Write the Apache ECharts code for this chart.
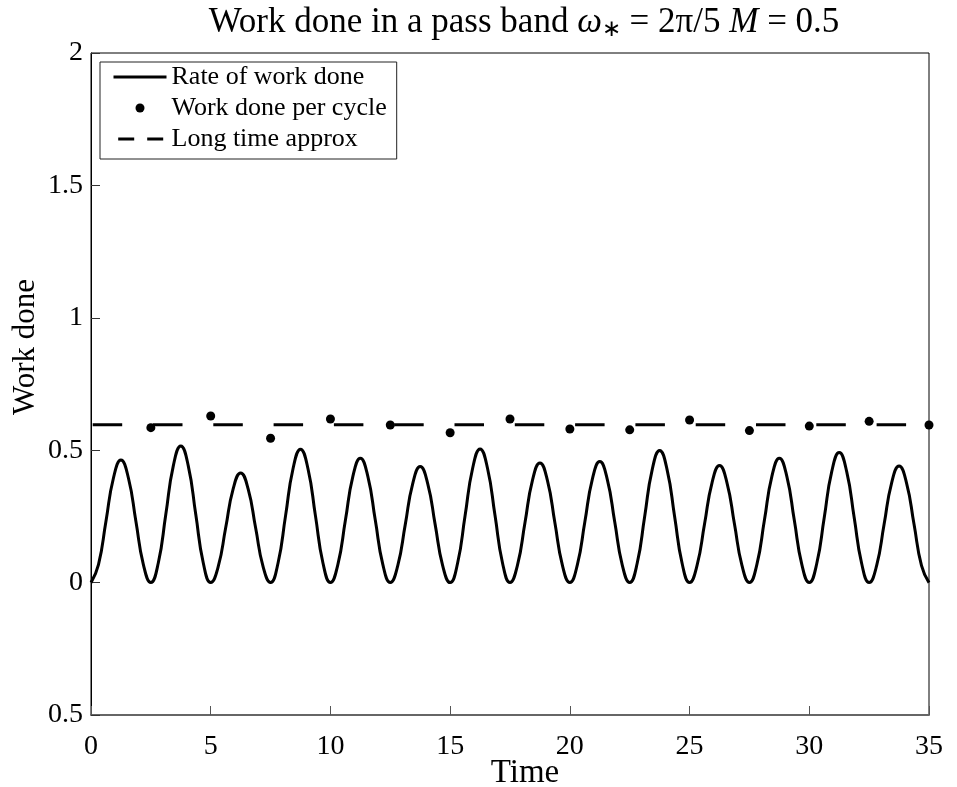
<!DOCTYPE html>
<html><head><meta charset="utf-8">
<script src="https://cdn.jsdelivr.net/npm/echarts@6/dist/echarts.min.js"></script>
<style>html,body{margin:0;padding:0;background:#fff}#c{width:957px;height:787px}</style>
</head><body><div id="c"></div>
<script>
// Rate of work done (time, value)
const rateTime = [
  0, 0.3125, 0.625, 0.9375, 1.25, 1.5625, 1.875, 2.1875,
  2.5, 2.8125, 3.125, 3.4375, 3.75, 4.0625, 4.375, 4.6875,
  5, 5.3125, 5.625, 5.9375, 6.25, 6.5625, 6.875, 7.1875,
  7.5, 7.8125, 8.125, 8.4375, 8.75, 9.0625, 9.375, 9.6875,
  10, 10.3125, 10.625, 10.9375, 11.25, 11.5625, 11.875, 12.1875,
  12.5, 12.8125, 13.125, 13.4375, 13.75, 14.0625, 14.375, 14.6875,
  15, 15.3125, 15.625, 15.9375, 16.25, 16.5625, 16.875, 17.1875,
  17.5, 17.8125, 18.125, 18.4375, 18.75, 19.0625, 19.375, 19.6875,
  20, 20.3125, 20.625, 20.9375, 21.25, 21.5625, 21.875, 22.1875,
  22.5, 22.8125, 23.125, 23.4375, 23.75, 24.0625, 24.375, 24.6875,
  25, 25.3125, 25.625, 25.9375, 26.25, 26.5625, 26.875, 27.1875,
  27.5, 27.8125, 28.125, 28.4375, 28.75, 29.0625, 29.375, 29.6875,
  30, 30.3125, 30.625, 30.9375, 31.25, 31.5625, 31.875, 32.1875,
  32.5, 32.8125, 33.125, 33.4375, 33.75, 34.0625, 34.375, 34.6875,
  35
];
const rateValue = [
  0, 0.068, 0.232, 0.395, 0.463, 0.395, 0.232, 0.068,
  0, 0.075, 0.258, 0.441, 0.516, 0.441, 0.258, 0.075,
  0, 0.060, 0.207, 0.354, 0.414, 0.354, 0.207, 0.060,
  0, 0.074, 0.252, 0.430, 0.504, 0.430, 0.252, 0.074,
  0, 0.069, 0.235, 0.401, 0.470, 0.401, 0.235, 0.069,
  0, 0.064, 0.219, 0.374, 0.438, 0.374, 0.219, 0.064,
  0, 0.074, 0.253, 0.431, 0.505, 0.431, 0.253, 0.074,
  0, 0.066, 0.226, 0.386, 0.452, 0.386, 0.226, 0.066,
  0, 0.067, 0.229, 0.390, 0.457, 0.390, 0.229, 0.067,
  0, 0.073, 0.250, 0.426, 0.499, 0.426, 0.250, 0.073,
  0, 0.065, 0.221, 0.377, 0.442, 0.377, 0.221, 0.065,
  0, 0.069, 0.235, 0.401, 0.470, 0.401, 0.235, 0.069,
  0, 0.072, 0.246, 0.419, 0.491, 0.419, 0.246, 0.072,
  0, 0.064, 0.220, 0.376, 0.440, 0.376, 0.220, 0.064,
  0
];
// Work done per cycle
const cycleTime = [2.5, 5, 7.5, 10, 12.5, 15, 17.5, 20, 22.5, 25, 27.5, 30, 32.5, 35];
const cycleWork = [0.585, 0.629, 0.545, 0.618, 0.595, 0.566, 0.618, 0.580, 0.577, 0.614, 0.574, 0.591, 0.609, 0.595];
// Long time approx
const approxTime = [0, 35];
const approxValue = [0.596, 0.596];
// Ticks
const xTickValues = [0, 5, 10, 15, 20, 25, 30, 35];
const xTickLabels = ['0', '5', '10', '15', '20', '25', '30', '35'];
const yTickValues = [-0.5, 0, 0.5, 1, 1.5, 2];
const yTickLabels = ['0.5', '0', '0.5', '1', '1.5', '2'];

const FONT = 'Liberation Serif';
function lab(values, labels) {
  return function (v) {
    for (let i = 0; i < values.length; i++) if (Math.abs(values[i] - v) < 1e-9) return labels[i];
    return '';
  };
}
const hiddenSymbol = {color: 'rgba(0,0,0,0)', borderColor: 'rgba(0,0,0,0)', borderWidth: 0};
const chart = echarts.init(document.getElementById('c'), null, {renderer: 'canvas'});
chart.setOption({
  animation: false,
  backgroundColor: '#fff',
  title: {
    text: '{n|Work done in a pass band }{i|ω}{s|∗}{n| = 2π/5 }{i|M}{n| = 0.5}',
    left: 519, textAlign: 'center', top: 0,
    textStyle: {
      fontWeight: 'normal',
      rich: {
        n: {fontFamily: FONT, fontSize: 35, fontWeight: 'normal', color: '#000'},
        i: {fontFamily: FONT, fontSize: 35, fontWeight: 'normal', fontStyle: 'italic', color: '#000'},
        s: {fontFamily: FONT, fontSize: 23, fontWeight: 'normal', color: '#000', padding: [13, 0, 0, 0]}
      }
    }
  },
  legend: {
    orient: 'vertical', left: 100, top: 62, padding: [2, 10, 7, 12], itemGap: 5,
    itemWidth: 53, itemHeight: 9,
    borderColor: '#222', borderWidth: 1, backgroundColor: '#fff', z: 10,
    textStyle: {fontFamily: FONT, fontSize: 26, color: '#000', lineHeight: 26},
    data: [
      {name: 'Rate of work done', itemStyle: hiddenSymbol, lineStyle: {width: 3, color: '#000'}},
      {name: 'Work done per cycle', icon: 'circle', itemStyle: {color: '#000', opacity: 1}},
      {name: 'Long time approx', itemStyle: hiddenSymbol, lineStyle: {width: 3, color: '#000', type: [16, 13], dashOffset: 24.3}}
    ]
  },
  grid: {left: 91, right: 28, top: 53, bottom: 72, show: true, borderColor: '#000', borderWidth: 1,
    backgroundColor: 'transparent', containLabel: false, outerBoundsMode: 'none'},
  xAxis: {
    type: 'value', min: 0, max: 35, interval: 5,
    axisLine: {show: true, onZero: false, lineStyle: {color: '#666', width: 2}},
    axisTick: {show: true, inside: true, length: 9, lineStyle: {color: '#555', width: 1}},
    axisLabel: {fontFamily: FONT, fontSize: 28, color: '#000', margin: 18, formatter: lab(xTickValues, xTickLabels)},
    splitLine: {show: false},
    name: 'Time', nameLocation: 'middle', nameGap: 42, nameMoveOverlap: false,
    nameTextStyle: {fontFamily: FONT, fontSize: 33, color: '#000', padding: [0, 0, 0, 30]}
  },
  yAxis: {
    type: 'value', min: -0.5, max: 2, interval: 0.5,
    axisLine: {show: true, onZero: false, lineStyle: {color: '#000', width: 1}},
    axisTick: {show: true, inside: true, length: 9, lineStyle: {color: '#333', width: 1}},
    axisLabel: {fontFamily: FONT, fontSize: 28, color: '#000', margin: 8, formatter: lab(yTickValues, yTickLabels)},
    splitLine: {show: false},
    name: 'Work done', nameLocation: 'middle', nameGap: 50, nameMoveOverlap: false,
    nameTextStyle: {fontFamily: FONT, fontSize: 31, color: '#000', padding: [0, 0, 0, 74]}
  },
  series: [
    {
      name: 'Rate of work done', type: 'line', smooth: 0.5, symbol: 'none', z: 2,
      data: rateTime.map((t, i) => [t, rateValue[i]]),
      lineStyle: {color: '#000', width: 3}, itemStyle: {color: '#000'}
    },
    {
      name: 'Work done per cycle', type: 'scatter', symbol: 'circle', symbolSize: 9, z: 4,
      data: cycleTime.map((t, i) => [t, cycleWork[i]]),
      itemStyle: {color: '#000', opacity: 1}
    },
    {
      name: 'Long time approx', type: 'line', symbol: 'none', z: 3,
      data: approxTime.map((t, i) => [t, approxValue[i]]),
      lineStyle: {color: '#000', width: 3, type: [29.5, 30.8], dashOffset: 58.6}, itemStyle: {color: '#000'}
    }
  ]
});
</script></body></html>
